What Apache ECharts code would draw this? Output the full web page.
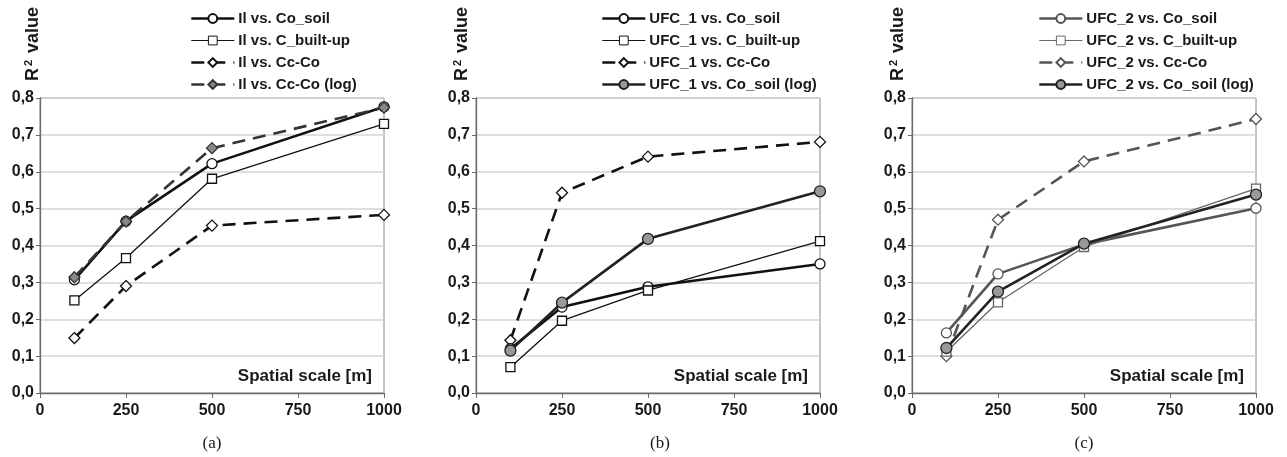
<!DOCTYPE html>
<html>
<head>
<meta charset="utf-8">
<script src="https://cdn.jsdelivr.net/npm/echarts@6/dist/echarts.min.js"></script>
<style>
  html, body { margin: 0; padding: 0; background: #fff; }
  #main { width: 1287px; height: 457px; }
</style>
</head>
<body>
<div id="main"></div>
<script>
// spatial scales (m)
var scales = [100, 250, 500, 1000];

// (a) Il
var ilCoSoil   = [0.307, 0.466, 0.622, 0.776];
var ilBuilt    = [0.251, 0.366, 0.581, 0.730];
var ilCcCo     = [0.149, 0.290, 0.454, 0.483];
var ilCcCoLog  = [0.314, 0.465, 0.664, 0.774];

// (b) UFC_1
var u1CoSoil   = [0.120, 0.233, 0.288, 0.350];
var u1Built    = [0.070, 0.196, 0.278, 0.412];
var u1CcCo     = [0.143, 0.543, 0.641, 0.681];
var u1CoSoilLog= [0.115, 0.245, 0.418, 0.547];

// (c) UFC_2
var u2CoSoil   = [0.163, 0.323, 0.403, 0.501];
var u2Built    = [0.112, 0.246, 0.396, 0.554];
var u2CcCo     = [0.100, 0.470, 0.628, 0.743];
var u2CoSoilLog= [0.122, 0.275, 0.405, 0.538];

var font = 'Liberation Sans, Arial, sans-serif';
var txt = '#1a1a1a';

function pts(vals){
	var out = [];
	for (var i = 0; i < scales.length; i++) out.push([scales[i], vals[i]]);
	return out;
}

function line(name, idx, vals, o){
	return {
		name: name,
		type: 'line',
		xAxisIndex: idx,
		yAxisIndex: idx,
		data: pts(vals),
		symbol: o.symbol,
		symbolSize: o.size,
		z: o.z || 2,
		itemStyle: { color: o.fill, borderColor: o.color, borderWidth: 1.3 },
		lineStyle: { color: o.color, width: o.width, type: o.dash ? [13, 8] : 'solid' },
		emphasis: { disabled: true },
		animation: false
	};
}

var panels = [
	{ left: 40,  legendLeft: 185, nameX: 33,  cap: '(a)',
	  names: ['Il vs. Co_soil', 'Il vs. C_built-up', 'Il vs. Cc-Co', 'Il vs. Cc-Co (log)'],
	  vals: [ilCoSoil, ilBuilt, ilCcCo, ilCcCoLog], grey: false, logDiamond: true },
	{ left: 476, legendLeft: 596, nameX: 462, cap: '(b)',
	  names: ['UFC_1 vs. Co_soil', 'UFC_1 vs. C_built-up', 'UFC_1 vs. Cc-Co', 'UFC_1 vs. Co_soil (log)'],
	  vals: [u1CoSoil, u1Built, u1CcCo, u1CoSoilLog], grey: false, logDiamond: false },
	{ left: 912, legendLeft: 1033, nameX: 898, cap: '(c)',
	  names: ['UFC_2 vs. Co_soil', 'UFC_2 vs. C_built-up', 'UFC_2 vs. Cc-Co', 'UFC_2 vs. Co_soil (log)'],
	  vals: [u2CoSoil, u2Built, u2CcCo, u2CoSoilLog], grey: true, logDiamond: false }
];

var grids = [], xAxes = [], yAxes = [], series = [], legends = [], graphics = [];
var W = 344;

panels.forEach(function(p, i){
	grids.push({ left: p.left, width: W, top: 98, bottom: 64, show: true,
		borderColor: '#8a8a8a', borderWidth: 1, backgroundColor: '#fff' });
	xAxes.push({
		type: 'value', gridIndex: i, min: 0, max: 1000, interval: 250,
		axisLine: { lineStyle: { color: '#6a6a6a', width: 1.3 } },
		axisTick: { show: true, length: 5, lineStyle: { color: '#6a6a6a' } },
		splitLine: { show: false },
		axisLabel: { color: txt, fontFamily: font, fontWeight: 'bold', fontSize: 16, margin: 10,
			formatter: function(v){ return String(v); } }
	});
	yAxes.push({
		type: 'value', gridIndex: i, min: 0, max: 0.8, interval: 0.1,
		axisLine: { show: true, lineStyle: { color: '#6a6a6a', width: 1.3 } },
		axisTick: { show: true, length: 4, lineStyle: { color: '#6a6a6a' } },
		splitLine: { lineStyle: { color: '#d4d4d4', width: 1.5 } },
		axisLabel: { color: txt, fontFamily: font, fontWeight: 'bold', fontSize: 16, margin: 6,
			formatter: function(v){ return v.toFixed(1).replace('.', ','); } }
	});

	var c1 = p.grey ? '#555' : '#111';
	var c2 = p.grey ? '#666' : '#111';
	series.push(line(p.names[0], i, p.vals[0], { symbol: 'circle', size: 10, fill: '#fff', color: c1, width: 2.6, z: 3 }));
	series.push(line(p.names[1], i, p.vals[1], { symbol: 'rect', size: 9, fill: '#fff', color: c2, width: 1.3, z: 3 }));
	series.push(line(p.names[2], i, p.vals[2], { symbol: 'diamond', size: 11, fill: '#fff', color: c1, width: 2.6, dash: true, z: 2 }));
	if (p.logDiamond) {
		series.push(line(p.names[3], i, p.vals[3], { symbol: 'diamond', size: 11, fill: '#888', color: '#333', width: 2.6, dash: true, z: 4 }));
	} else {
		series.push(line(p.names[3], i, p.vals[3], { symbol: 'circle', size: 11, fill: '#999', color: '#222', width: 2.6, z: 4 }));
	}

	legends.push({
		orient: 'vertical', left: p.legendLeft, top: 6, itemWidth: 43, itemHeight: 11, itemGap: 7,
		data: [
			{ name: p.names[0], lineStyle: { width: 2.6 } },
			{ name: p.names[1], lineStyle: { width: 1.2 }, itemStyle: { borderWidth: 1 } },
			{ name: p.names[2], lineStyle: { width: 2.6 } },
			{ name: p.names[3], lineStyle: { width: 2.6 } }
		],
		selectedMode: false,
		textStyle: { color: txt, fontFamily: font, fontWeight: 'bold', fontSize: 15, padding: [0, 0, 0, -1] }
	});

	graphics.push({
		type: 'text', x: p.nameX, y: 44, rotation: Math.PI / 2,
		style: {
			text: 'R{s|2} value', align: 'center', verticalAlign: 'middle',
			font: 'bold 18px ' + font, fill: txt,
			rich: { s: { fontSize: 11, fontWeight: 'bold', fontFamily: font, verticalAlign: 'top', padding: [0, 2, 8, 2] } }
		}
	});
	graphics.push({
		type: 'text', x: p.left + W - 12, y: 376,
		style: { text: 'Spatial scale [m]', align: 'right', verticalAlign: 'middle',
			font: 'bold 17px ' + font, fill: txt }
	});
	graphics.push({
		type: 'text', x: p.left + W / 2 + (i === 1 ? 12 : 0), y: 444,
		style: { text: p.cap, align: 'center', verticalAlign: 'middle',
			font: '17px "Liberation Serif", "Times New Roman", serif', fill: txt }
	});
});

var myChart = echarts.init(document.getElementById('main'));
var option = {
	backgroundColor: '#fff',
	animation: false,
	grid: grids,
	xAxis: xAxes,
	yAxis: yAxes,
	legend: legends,
	series: series,
	graphic: graphics
};
myChart.setOption(option);
</script>
</body>
</html>
